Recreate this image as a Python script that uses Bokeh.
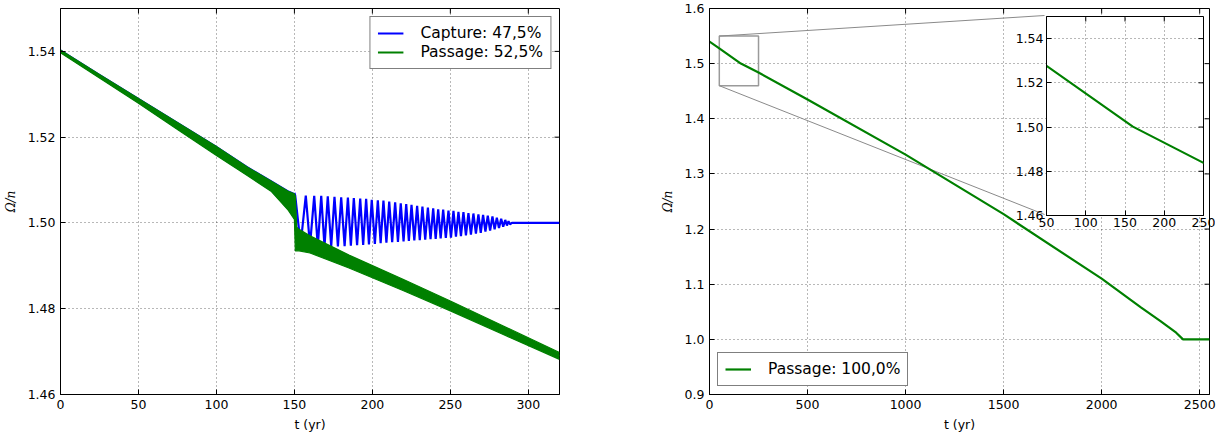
import math
from bokeh.plotting import figure
from bokeh.layouts import row
from bokeh.models import FixedTicker, PrintfTickFormatter, Legend, LegendItem
from bokeh.embed import file_html
from bokeh.resources import INLINE

# ---------------- texts / ticks ----------------
left_xticks = [0, 50, 100, 150, 200, 250, 300]
left_yticks = [1.46, 1.48, 1.50, 1.52, 1.54]
right_xticks = [0, 500, 1000, 1500, 2000, 2500]
right_yticks = [0.9, 1.0, 1.1, 1.2, 1.3, 1.4, 1.5, 1.6]
inset_xticks = [50, 100, 150, 200, 250]
inset_yticks = [1.46, 1.48, 1.50, 1.52, 1.54]
capture_label = "Capture: 47,5%"
passage_label = "Passage: 52,5%"
passage_all_label = "Passage: 100,0%"
xlabel = "t (yr)"
ylabel = "Ω/n"

# ---------------- left panel data ----------------
# passage: envelope of the fast oscillation band
pass_t = [0, 25, 50, 75, 100, 120, 135, 146, 150, 150.6, 151.5, 153, 160, 185, 220, 250, 285, 320]
pass_hi = [1.5403, 1.5346, 1.5290, 1.5234, 1.5178, 1.5130, 1.5098, 1.5074, 1.5068, 1.5062,
           1.4990, 1.4985, 1.4970, 1.4925, 1.4868, 1.4818, 1.4758, 1.4698]
pass_lo = [1.5397, 1.5338, 1.5279, 1.5218, 1.5157, 1.5110, 1.5074, 1.5030, 1.5008, 1.4935,
           1.4935, 1.4935, 1.4930, 1.4895, 1.4842, 1.4795, 1.4738, 1.4682]

# capture: band before the resonance
cap_pre_t = [0, 25, 50, 75, 100, 120, 135, 146, 150]
cap_pre_hi = [1.5405, 1.5348, 1.5292, 1.5236, 1.5180, 1.5132, 1.5100, 1.5076, 1.5070]
cap_pre_lo = [1.5397, 1.5338, 1.5279, 1.5218, 1.5157, 1.5110, 1.5074, 1.5030, 1.5008]

# capture: oscillation maxima and minima after capture
cap_top_t = [150.5, 157.3, 162.7, 167.2, 171.4, 175.7, 180.0, 184.3, 188.1, 192.2, 196.0, 199.6,
             203.5, 207.1, 210.8, 214.6, 218.2, 221.7, 225.1, 228.7, 232.1, 235.6, 239.0, 242.2,
             245.4, 248.8, 252.0, 255.2, 258.4, 261.6, 264.8, 268.0, 271.0, 274.0, 277.0, 279.8,
             282.6, 285.2, 287.3]
cap_top_v = [1.5064, 1.5064, 1.5063, 1.5063, 1.5062, 1.5061, 1.5060, 1.5059, 1.5058, 1.5057,
             1.5056, 1.5054, 1.5053, 1.5052, 1.5050, 1.5048, 1.5046, 1.5044, 1.5042, 1.5040,
             1.5038, 1.5036, 1.5034, 1.5032, 1.5031, 1.5029, 1.5028, 1.5026, 1.5025, 1.5023,
             1.5022, 1.5020, 1.5019, 1.5017, 1.5015, 1.5012, 1.5010, 1.5007, 1.5004]
cap_bot_t = [154.0, 160.0, 165.0, 169.3, 173.6, 177.9, 182.2, 186.2, 190.2, 194.1, 197.8, 201.6,
             205.3, 209.0, 212.7, 216.4, 220.0, 223.4, 226.9, 230.4, 233.9, 237.3, 240.6, 243.8,
             247.1, 250.4, 253.6, 256.8, 260.0, 263.2, 266.4, 269.5, 272.5, 275.5, 278.4, 281.2,
             283.9, 286.3, 288.3]
cap_bot_v = [1.4950, 1.4947, 1.4946, 1.4945, 1.4945, 1.4945, 1.4946, 1.4947, 1.4948, 1.4949,
             1.4950, 1.4951, 1.4953, 1.4954, 1.4955, 1.4956, 1.4957, 1.4958, 1.4959, 1.4960,
             1.4961, 1.4962, 1.4963, 1.4964, 1.4965, 1.4966, 1.4968, 1.4969, 1.4971, 1.4973,
             1.4975, 1.4977, 1.4980, 1.4982, 1.4985, 1.4988, 1.4991, 1.4994, 1.4997]
cap_end_t = [289.5, 320]
cap_end_v = [1.5000, 1.5000]

# ---------------- right panel data ----------------
pass_r_t = [0, 50, 160, 250, 500, 1000, 1500, 2000, 2200, 2300, 2380, 2415, 2550]
pass_r_v = [1.540, 1.5277, 1.5002, 1.4838, 1.435, 1.335, 1.227, 1.110, 1.058, 1.033, 1.012,
            1.000, 1.000]

# ---------------- style ----------------
FONT = "DejaVu Sans"
TICK_FS = "12.5px"
BLUE = "#0000ff"
GREEN = "#008000"


def style(p, xticks, yticks, yfmt):
    p.xaxis.ticker = FixedTicker(ticks=xticks)
    p.yaxis.ticker = FixedTicker(ticks=yticks)
    p.yaxis.formatter = PrintfTickFormatter(format=yfmt)
    for ax in list(p.xaxis) + list(p.yaxis):
        ax.major_tick_in = 5
        ax.major_tick_out = 0
        ax.minor_tick_line_color = None
        ax.major_tick_line_color = "black"
        ax.axis_line_color = "black"
        ax.major_label_text_font = FONT
        ax.major_label_text_font_size = TICK_FS
        ax.major_label_text_color = "black"
        ax.major_label_standoff = 5
    p.grid.grid_line_color = "black"
    p.grid.grid_line_dash = "1 3"
    p.grid.grid_line_alpha = 0.7
    p.grid.grid_line_width = 0.8
    p.outline_line_color = "black"
    p.outline_line_width = 1
    p.outline_line_alpha = 1


def mirror_ticks(p, xticks, yticks, xr, yr):
    # inward ticks on the top and right edges (length in screen pixels)
    p.ray(x=xticks, y=[yr[1]] * len(xticks), length=5, length_units="screen",
          angle=-math.pi / 2, line_color="black", line_width=1)
    p.ray(x=[xr[1]] * len(yticks), y=yticks, length=5, length_units="screen",
          angle=math.pi, line_color="black", line_width=1)


def labels(p):
    xa = p.below[0]
    xa.axis_label = xlabel
    xa.axis_label_text_font = FONT
    xa.axis_label_text_font_size = "12.5px"
    xa.axis_label_text_font_style = "normal"
    xa.axis_label_text_color = "black"
    xa.axis_label_standoff = 5
    ya = p.left[0]
    ya.axis_label = ylabel
    ya.axis_label_text_font = "DejaVu Serif"
    ya.axis_label_text_font_size = "12px"
    ya.axis_label_text_font_style = "italic"
    ya.axis_label_text_color = "black"
    ya.axis_label_standoff = 7


def make_legend(items, location):
    lg = Legend(items=items, location=location)
    lg.border_line_color = "black"
    lg.border_line_width = 1
    lg.background_fill_color = "white"
    lg.background_fill_alpha = 1
    lg.label_text_font = FONT
    lg.label_text_font_size = "15.5px"
    lg.label_text_color = "black"
    lg.glyph_width = 26
    lg.glyph_height = 18
    lg.label_height = 18
    lg.padding = 7
    lg.spacing = 1
    lg.label_standoff = 17
    lg.margin = 8
    return lg


TOP = 8
LX, LY = (0, 320), (1.46, 1.55)
# ---------------- left figure ----------------
p1 = figure(frame_width=499, frame_height=386, x_range=LX, y_range=LY,
            min_border_left=54, min_border_right=79, min_border_top=TOP, min_border_bottom=43,
            toolbar_location=None, tools="", output_backend="svg")
style(p1, left_xticks, left_yticks, "%.2f")
labels(p1)
mirror_ticks(p1, left_xticks, left_yticks, LX, LY)

# capture
p1.varea(x=cap_pre_t, y1=cap_pre_lo, y2=cap_pre_hi, fill_color=BLUE)
ext = sorted(zip(cap_top_t + cap_bot_t, cap_top_v + cap_bot_v))
osc_t = [cap_pre_t[-1]] + [a for a, b in ext] + cap_end_t
osc_v = [cap_pre_hi[-1]] + [b for a, b in ext] + cap_end_v
r_cap = p1.line(osc_t, osc_v, line_color=BLUE, line_width=2.2)
# passage (drawn on top)
p1.varea(x=pass_t, y1=pass_lo, y2=pass_hi, fill_color=GREEN)
p1.line(pass_t, pass_hi, line_color=GREEN, line_width=1.2)
p1.line(pass_t, pass_lo, line_color=GREEN, line_width=1.2)
pass_mid = [(a + b) / 2 for a, b in zip(pass_hi, pass_lo)]
r_pass = p1.line(pass_t, pass_mid, line_color=GREEN, line_width=2.2)
p1.add_layout(make_legend([LegendItem(label=capture_label, renderers=[r_cap]),
                           LegendItem(label=passage_label, renderers=[r_pass])], "top_right"))

# ---------------- right figure ----------------
RX = (0, 2550)
RY = (0.9, 1.6)
IX = (50, 250)
IY = (1.46, 1.55)
FW2, FH2 = 500, 386
# inset frame placement inside the right frame (pixels from frame's left / top)
INS_LEFT, INS_TOP, INS_W, INS_H = 335, 7, 157, 199
P2_LEFT_BORDER = 71

p2 = figure(frame_width=FW2, frame_height=FH2, x_range=RX, y_range=RY,
            min_border_left=P2_LEFT_BORDER, min_border_right=8, min_border_top=TOP,
            min_border_bottom=43, toolbar_location=None, tools="", output_backend="svg")
style(p2, right_xticks, right_yticks, "%.1f")
labels(p2)
mirror_ticks(p2, right_xticks, right_yticks, RX, RY)

# zoom rectangle and connectors
p2.quad(left=IX[0], right=IX[1], bottom=IY[0], top=IY[1], fill_color=None,
        line_color="#9a9a9a", line_width=1.5)
ix_data = RX[0] + INS_LEFT / FW2 * (RX[1] - RX[0])
iy_top = RY[1] - INS_TOP / FH2 * (RY[1] - RY[0])
iy_bot = RY[1] - (INS_TOP + INS_H) / FH2 * (RY[1] - RY[0])
p2.segment(x0=[IX[0], IX[0]], y0=[IY[1], IY[0]], x1=[ix_data, ix_data], y1=[iy_top, iy_bot],
           line_color="#8a8a8a", line_width=1)

r_all = p2.line(pass_r_t, pass_r_v, line_color=GREEN, line_width=2.2)
p2.add_layout(make_legend([LegendItem(label=passage_all_label, renderers=[r_all])], "bottom_left"))

# ---------------- inset ----------------
IB_L, IB_T = 34, 1
inset = figure(frame_width=INS_W, frame_height=INS_H, x_range=IX, y_range=IY,
               min_border_left=IB_L, min_border_right=12, min_border_top=IB_T, min_border_bottom=19,
               toolbar_location=None, tools="", output_backend="svg",
               border_fill_alpha=0, background_fill_color="white")
style(inset, inset_xticks, inset_yticks, "%.2f")
inset.xaxis.major_label_standoff = 2
inset.yaxis.major_label_standoff = 3
mirror_ticks(inset, inset_xticks, inset_yticks, IX, IY)
inset.line(pass_r_t, pass_r_v, line_color=GREEN, line_width=2.2)

P1_W = 54 + 499 + 79
page_left = 8 + P1_W + P2_LEFT_BORDER + INS_LEFT - IB_L
page_top = TOP + INS_TOP - IB_T + 1
inset.styles = {"position": "absolute", "left": f"{page_left}px", "top": f"{page_top}px",
                "z-index": "10"}

layout = row(p1, p2)
open("out.html", "w").write(file_html([layout, inset], INLINE))
